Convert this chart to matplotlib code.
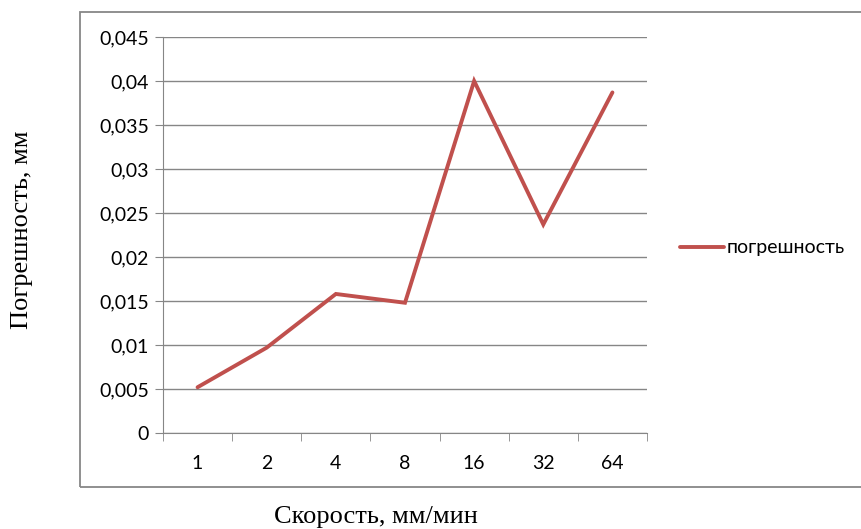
import matplotlib
matplotlib.use('Agg')
import matplotlib.pyplot as plt
from matplotlib.patches import Rectangle

# data
speeds = ['1', '2', '4', '8', '16', '32', '64']
error_mm = [0.0052, 0.0097, 0.0158, 0.0148, 0.0400, 0.0237, 0.0387]
yticks = [0, 0.005, 0.01, 0.015, 0.02, 0.025, 0.03, 0.035, 0.04, 0.045]
ytick_labels = ['0', '0,005', '0,01', '0,015', '0,02', '0,025', '0,03', '0,035', '0,04', '0,045']

line_color = '#C0504D'
grid_color = '#868686'

fig = plt.figure(figsize=(8.61, 5.29), dpi=100)
fig.patch.set_facecolor('white')

# outer chart frame (right edge runs off the picture)
fig.patches.append(Rectangle((80/861, 1-487/529), 800/861, 475/529,
                             transform=fig.transFigure, fill=False,
                             edgecolor='#878787', linewidth=1.3))

ax = fig.add_axes([163/861, 1-433/529, 484/861, 396/529])
x = list(range(len(speeds)))
ax.plot(x, error_mm, color=line_color, linewidth=2.8, label='погрешность',
        solid_capstyle='round', solid_joinstyle='miter')

ax.set_xlim(-0.5, len(speeds)-0.5)
ax.set_ylim(0, 0.045)
ax.set_yticks(yticks)
ax.set_yticklabels(ytick_labels, fontfamily='Lato', fontsize=14)
ax.set_xticks(x)
ax.set_xticklabels(speeds, fontfamily='Lato', fontsize=14)
ax.tick_params(axis='x', length=0, pad=16)
ax.set_xticks([i - 0.5 for i in range(len(speeds)+1)], minor=True)
ax.tick_params(axis='x', which='minor', length=6, color=grid_color, direction='out')
ax.tick_params(axis='y', length=6, color=grid_color, direction='out', pad=4)
ax.yaxis.grid(True, color=grid_color, linewidth=1.0)
ax.set_axisbelow(True)
for s in ['top', 'right']:
    ax.spines[s].set_visible(False)
ax.spines['left'].set_color(grid_color)
ax.spines['bottom'].set_color(grid_color)

fig.text(376/861, 1-517/529, 'Скорость, мм/мин', fontfamily='Liberation Serif',
         fontsize=19, ha='center', va='center')
fig.text(22/861, 1-230/529, 'Погрешность, мм', fontfamily='Liberation Serif',
         fontsize=19, ha='center', va='center', rotation=90)

leg = fig.legend(loc='center left', bbox_to_anchor=(662/861, 1-248/529),
                 frameon=False, handlelength=2.3, handletextpad=0.1,
                 prop={'family': 'Lato', 'size': 14})

plt.savefig('out.png', dpi=100)
